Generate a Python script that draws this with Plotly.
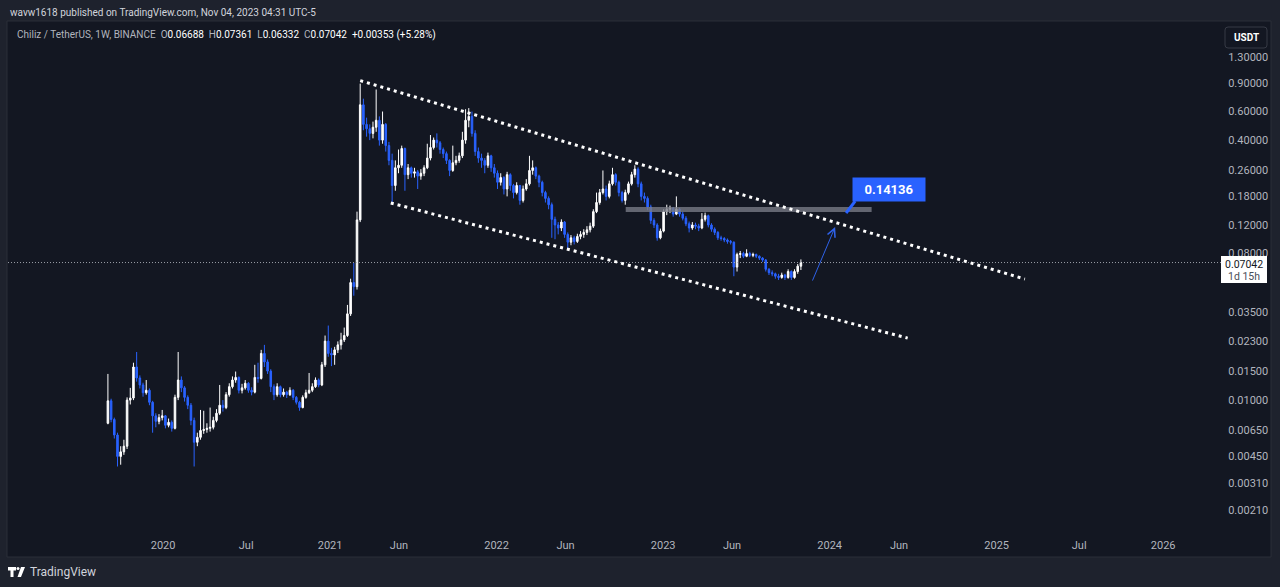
import math
import pandas as pd
import plotly.graph_objects as go

# ---------------- data (weekly CHZ/USDT candles) ----------------
FIRST_WEEK = "2019-09-02"
FIRST_OPEN = 0.0072

close = [
    0.0099, 0.0076, 0.0061, 0.0045, 0.0048, 0.0052, 0.0100, 0.0103, 0.0160, 0.0137,
    0.0124, 0.0111, 0.0115, 0.0097, 0.0080, 0.0074, 0.0078, 0.0080, 0.0070, 0.0073,
    0.0067, 0.0104, 0.0133, 0.0119, 0.0104, 0.0093, 0.0075, 0.0055, 0.0059, 0.0065,
    0.0066, 0.0067, 0.0068, 0.0075, 0.0083, 0.0093, 0.0090, 0.0108, 0.0121, 0.0133,
    0.0138, 0.0115, 0.0119, 0.0127, 0.0115, 0.0112, 0.0138, 0.0136, 0.0194, 0.0172,
    0.0151, 0.0121, 0.0108, 0.0121, 0.0108, 0.0112, 0.0108, 0.0115, 0.0104, 0.0097,
    0.0090, 0.0104, 0.0111, 0.0115, 0.0121, 0.0133, 0.0124, 0.0165, 0.0231, 0.0194,
    0.0190, 0.0204, 0.0219, 0.0235, 0.0250, 0.0340, 0.0530, 0.0500, 0.1290, 0.6600,
    0.500, 0.470, 0.440, 0.480, 0.530, 0.400, 0.500, 0.370, 0.300, 0.210,
    0.270, 0.280, 0.355, 0.245, 0.270, 0.250, 0.255, 0.240, 0.250, 0.270,
    0.310, 0.360, 0.400, 0.385, 0.350, 0.330, 0.300, 0.260, 0.290, 0.300,
    0.320, 0.400, 0.530, 0.560, 0.440, 0.340, 0.310, 0.300, 0.280, 0.320,
    0.270, 0.250, 0.220, 0.235, 0.200, 0.245, 0.210, 0.190, 0.210, 0.170,
    0.200, 0.215, 0.260, 0.270, 0.240, 0.220, 0.190, 0.175, 0.160, 0.130,
    0.120, 0.115, 0.125, 0.105, 0.094, 0.100, 0.095, 0.102, 0.105, 0.108,
    0.112, 0.118, 0.145, 0.165, 0.190, 0.200, 0.180, 0.215, 0.245, 0.220,
    0.190, 0.170, 0.190, 0.215, 0.245, 0.265, 0.215, 0.180, 0.175, 0.155,
    0.128, 0.120, 0.100, 0.110, 0.145, 0.150, 0.152, 0.140, 0.150, 0.140,
    0.132, 0.122, 0.115, 0.120, 0.118, 0.115, 0.130, 0.137, 0.120, 0.113,
    0.108, 0.100, 0.099, 0.097, 0.095, 0.094, 0.066, 0.079, 0.080, 0.077,
    0.080, 0.078, 0.079, 0.077, 0.075, 0.073, 0.064, 0.061, 0.060, 0.058,
    0.057, 0.059, 0.057, 0.062, 0.057, 0.062, 0.06688, 0.07042,
]

high = [
    0.0145, 0.0102, 0.0078, 0.0063, 0.0052, 0.0057, 0.0104, 0.0119, 0.0170, 0.0198,
    0.0142, 0.0128, 0.0133, 0.0118, 0.0099, 0.0083, 0.0082, 0.0087, 0.0081, 0.0077,
    0.0075, 0.0108, 0.0198, 0.0140, 0.0122, 0.0107, 0.0096, 0.0078, 0.0063, 0.0087,
    0.0086, 0.0072, 0.0090, 0.0079, 0.0088, 0.0124, 0.0100, 0.0112, 0.0127, 0.0140,
    0.0150, 0.0140, 0.0126, 0.0133, 0.0129, 0.0120, 0.0165, 0.0170, 0.0204, 0.0219,
    0.0178, 0.0155, 0.0125, 0.0127, 0.0123, 0.0118, 0.0114, 0.0120, 0.0117, 0.0106,
    0.0099, 0.0107, 0.0116, 0.0147, 0.0127, 0.0138, 0.0136, 0.0172, 0.0250, 0.0288,
    0.0210, 0.0213, 0.0230, 0.0260, 0.0280, 0.0386, 0.0560, 0.0700, 0.1450, 0.8915,
    0.720, 0.550, 0.500, 0.520, 0.820, 0.560, 0.600, 0.510, 0.390, 0.330,
    0.300, 0.350, 0.370, 0.360, 0.285, 0.275, 0.270, 0.262, 0.265, 0.280,
    0.380, 0.430, 0.415, 0.440, 0.395, 0.360, 0.340, 0.305, 0.370, 0.320,
    0.335, 0.450, 0.620, 0.630, 0.600, 0.460, 0.360, 0.330, 0.310, 0.335,
    0.325, 0.285, 0.260, 0.250, 0.240, 0.255, 0.250, 0.215, 0.220, 0.212,
    0.210, 0.230, 0.320, 0.300, 0.275, 0.245, 0.225, 0.195, 0.180, 0.165,
    0.135, 0.125, 0.130, 0.127, 0.108, 0.104, 0.103, 0.106, 0.110, 0.113,
    0.118, 0.124, 0.150, 0.190, 0.200, 0.260, 0.210, 0.225, 0.270, 0.250,
    0.225, 0.195, 0.198, 0.222, 0.255, 0.280, 0.272, 0.222, 0.190, 0.180,
    0.160, 0.132, 0.123, 0.114, 0.150, 0.160, 0.158, 0.155, 0.180, 0.153,
    0.145, 0.136, 0.126, 0.125, 0.124, 0.122, 0.142, 0.143, 0.139, 0.123,
    0.116, 0.110, 0.103, 0.101, 0.099, 0.097, 0.095, 0.081, 0.083, 0.082,
    0.085, 0.082, 0.081, 0.080, 0.078, 0.076, 0.074, 0.065, 0.063, 0.061,
    0.060, 0.061, 0.060, 0.064, 0.063, 0.064, 0.069, 0.07361,
]

low = [
    0.0071, 0.0073, 0.0058, 0.0039, 0.0040, 0.0046, 0.0050, 0.0094, 0.0100, 0.0130,
    0.0118, 0.0105, 0.0108, 0.0093, 0.0063, 0.0068, 0.0071, 0.0075, 0.0067, 0.0068,
    0.0064, 0.0066, 0.0100, 0.0112, 0.0098, 0.0088, 0.0070, 0.0039, 0.0052, 0.0057,
    0.0062, 0.0063, 0.0064, 0.0066, 0.0073, 0.0081, 0.0085, 0.0088, 0.0105, 0.0118,
    0.0128, 0.0110, 0.0110, 0.0116, 0.0111, 0.0107, 0.0110, 0.0128, 0.0134, 0.0160,
    0.0145, 0.0112, 0.0100, 0.0105, 0.0104, 0.0105, 0.0103, 0.0106, 0.0100, 0.0094,
    0.0086, 0.0089, 0.0102, 0.0109, 0.0112, 0.0119, 0.0120, 0.0122, 0.0160, 0.0185,
    0.0162, 0.0165, 0.0195, 0.0205, 0.0228, 0.0245, 0.0330, 0.0440, 0.0480, 0.1250,
    0.460, 0.420, 0.400, 0.410, 0.450, 0.370, 0.380, 0.340, 0.280, 0.164,
    0.195, 0.250, 0.270, 0.195, 0.230, 0.235, 0.235, 0.200, 0.228, 0.240,
    0.265, 0.300, 0.350, 0.360, 0.330, 0.310, 0.285, 0.240, 0.255, 0.280,
    0.290, 0.310, 0.380, 0.480, 0.420, 0.320, 0.290, 0.270, 0.250, 0.270,
    0.255, 0.235, 0.200, 0.210, 0.185, 0.180, 0.195, 0.175, 0.185, 0.160,
    0.165, 0.195, 0.210, 0.245, 0.230, 0.205, 0.180, 0.165, 0.150, 0.100,
    0.098, 0.105, 0.110, 0.100, 0.085, 0.090, 0.091, 0.093, 0.098, 0.100,
    0.104, 0.108, 0.115, 0.142, 0.160, 0.185, 0.170, 0.175, 0.210, 0.210,
    0.180, 0.165, 0.160, 0.185, 0.210, 0.235, 0.205, 0.170, 0.165, 0.148,
    0.122, 0.115, 0.096, 0.098, 0.108, 0.138, 0.142, 0.135, 0.138, 0.135,
    0.128, 0.118, 0.108, 0.112, 0.113, 0.110, 0.113, 0.126, 0.116, 0.109,
    0.104, 0.097, 0.096, 0.094, 0.092, 0.091, 0.058, 0.062, 0.075, 0.075,
    0.076, 0.076, 0.076, 0.075, 0.073, 0.071, 0.062, 0.059, 0.058, 0.056,
    0.055, 0.056, 0.055, 0.056, 0.055, 0.056, 0.060, 0.06332,
]

y_tick_values = [1.3, 0.9, 0.6, 0.4, 0.26, 0.18, 0.12, 0.08, 0.035,
                 0.023, 0.015, 0.01, 0.0065, 0.0045, 0.0031, 0.0021]
x_tick_dates = ["2020-01-01", "2020-07-01", "2021-01-01", "2021-06-01", "2022-01-01",
                "2022-06-01", "2023-01-01", "2023-06-01", "2024-01-01", "2024-06-01",
                "2025-01-01", "2025-07-01", "2026-01-01"]
x_tick_labels = ["2020", "Jul", "2021", "Jun", "2022", "Jun", "2023", "Jun",
                 "2024", "Jun", "2025", "Jul", "2026"]
x_view = ["2019-01-26", "2026-05-10"]
y_view = [0.001584, 2.137]

# drawings (anchor points of the user's drawing tools)
upper_line_dates = ["2021-03-08", "2025-03-04"]
upper_line_prices = [0.93, 0.0557]
lower_line_dates = ["2021-05-14", "2024-06-20"]
lower_line_prices = [0.164, 0.0241]
zone_dates = ["2022-10-11", "2024-04-02"]
zone_prices = [0.1442, 0.1548]
target_label = "0.14136"
callout_tail_dates = ["2024-02-26", "2024-02-06"]
callout_tail_prices = [0.1685, 0.1422]
arrow_dates = ["2023-11-23", "2024-01-13"]
arrow_prices = [0.0534, 0.1166]
last_price = 0.07042
last_price_text = "0.07042"
countdown_text = "1d 15h"

header_text = "wavw1618 published on TradingView.com, Nov 04, 2023 04:31 UTC-5"
symbol_text = "Chiliz / TetherUS, 1W, BINANCE"
ohlc_text = [("O", "0.06688"), ("H", "0.07361"), ("L", "0.06332"), ("C", "0.07042")]
change_text = "+0.00353 (+5.28%)"

# ---------------- styling ----------------
FRAME = "#1e222d"
PANEL = "#131722"
TXT = "#b2b5be"
UP = "#ffffff"
DOWN = "#2962ff"
FONT = "Roboto"

W, H = 1280, 587
ML, MR, MT, MB = 8, 58, 22, 57
PW, PH = W - ML - MR, H - MT - MB


def fx(p):
    return (p - ML) / PW


def fy(p):
    return 1 - (p - MT) / PH


def rounded_rect(x0, y0, x1, y1, r):
    # rounded rectangle path in paper coordinates from pixel corners
    return ("M {a},{t} L {b},{t} Q {R},{t} {R},{c} L {R},{d} Q {R},{Bt} {b},{Bt} "
            "L {a},{Bt} Q {Lf},{Bt} {Lf},{d} L {Lf},{c} Q {Lf},{t} {a},{t} Z").format(
        a=fx(x0 + r), b=fx(x1 - r), R=fx(x1), Lf=fx(x0),
        t=fy(y0), c=fy(y0 + r), d=fy(y1 - r), Bt=fy(y1))


dates = pd.date_range(FIRST_WEEK, periods=len(close), freq="7D")
opens = [FIRST_OPEN] + close[:-1]

fig = go.Figure()

# price dotted line
fig.add_trace(go.Scatter(
    x=x_view, y=[last_price, last_price], mode="lines",
    line=dict(color="rgba(178,181,190,0.85)", width=1, dash="1px,2px"),
    hoverinfo="skip"))

fig.add_trace(go.Candlestick(
    x=dates, open=opens, high=high, low=low, close=close,
    increasing=dict(line=dict(color=UP, width=1), fillcolor=UP),
    decreasing=dict(line=dict(color=DOWN, width=1), fillcolor=DOWN),
    whiskerwidth=0, hoverinfo="skip"))

# horizontal zone
fig.add_trace(go.Scatter(
    x=[zone_dates[0], zone_dates[1], zone_dates[1], zone_dates[0], zone_dates[0]],
    y=[zone_prices[0], zone_prices[0], zone_prices[1], zone_prices[1], zone_prices[0]],
    mode="lines", fill="toself", fillcolor="rgba(120,123,134,0.80)",
    line=dict(width=0), hoverinfo="skip"))

# channel lines
for dx, dy in ((upper_line_dates, upper_line_prices), (lower_line_dates, lower_line_prices)):
    fig.add_trace(go.Scatter(
        x=dx, y=dy, mode="lines",
        line=dict(color="#ffffff", width=3, dash="3px,4px"), hoverinfo="skip"))

# callout tail
fig.add_trace(go.Scatter(
    x=callout_tail_dates, y=callout_tail_prices, mode="lines",
    line=dict(color=DOWN, width=3), hoverinfo="skip"))

shapes = [
    # chart panel
    dict(type="rect", xref="paper", yref="paper", x0=fx(7), x1=fx(1271), y0=fy(21), y1=fy(557),
         fillcolor=PANEL, line=dict(color="#2a2e39", width=1), layer="below"),
    # USDT box
    dict(type="path", xref="paper", yref="paper", path=rounded_rect(1225, 27, 1267, 48, 3),
         fillcolor=PANEL, line=dict(color="#363a45", width=1), layer="above"),
    # last-price label box
    dict(type="rect", xref="paper", yref="paper", x0=fx(1221), x1=fx(1267), y0=fy(256), y1=fy(283),
         fillcolor="#ffffff", line=dict(width=0), layer="above"),
    # TradingView logo
    dict(type="path", xref="paper", yref="paper",
         path="M {a},{b} L {c},{b} L {c},{d} L {e},{d} L {e},{f} L {g},{f} L {g},{d} L {a},{d} Z".format(
             a=fx(8), b=fy(567), c=fx(16), d=fy(570.5), e=fx(13.5), f=fy(577), g=fx(10.5)),
         fillcolor="#ffffff", line=dict(width=0)),
    dict(type="circle", xref="paper", yref="paper", x0=fx(16.5), x1=fx(19.5), y0=fy(567), y1=fy(570),
         fillcolor="#ffffff", line=dict(width=0)),
    dict(type="path", xref="paper", yref="paper",
         path="M {a},{b} L {c},{b} L {d},{e} L {f},{e} Z".format(
             a=fx(21), b=fy(567), c=fx(25), d=fx(21), e=fy(577), f=fx(17.5)),
         fillcolor="#ffffff", line=dict(width=0)),
]

ann = []
ann.append(dict(xref="paper", yref="paper", x=fx(8), y=fy(12), xanchor="left", yanchor="middle",
                text=header_text, showarrow=False, font=dict(family=FONT, size=10, color="#d1d4dc")))
legend_html = '<span style="color:#b2b5be">%s</span>' % symbol_text
for k, v in ohlc_text:
    legend_html += '&nbsp;&nbsp;<span style="color:#b2b5be">%s</span><span style="color:#ffffff">%s</span>' % (k, v)
legend_html += '&nbsp;&nbsp;<span style="color:#ffffff">%s</span>' % change_text
ann.append(dict(xref="paper", yref="paper", x=fx(15), y=fy(35), xanchor="left", yanchor="middle",
                text=legend_html, showarrow=False, font=dict(family=FONT, size=10, color=TXT)))
ann.append(dict(xref="paper", yref="paper", x=fx(1246), y=fy(37.5), xanchor="center", yanchor="middle",
                text="<b>USDT</b>", showarrow=False, font=dict(family=FONT, size=10, color="#ffffff")))
ann.append(dict(xref="paper", yref="paper", x=fx(1244), y=fy(264), xanchor="center", yanchor="middle",
                text=last_price_text, showarrow=False, font=dict(family=FONT, size=10.5, color="#131722")))
ann.append(dict(xref="paper", yref="paper", x=fx(1244), y=fy(276.5), xanchor="center", yanchor="middle",
                text=countdown_text, showarrow=False, font=dict(family=FONT, size=10.5, color="#4a4e59")))
ann.append(dict(xref="paper", yref="paper", x=fx(28), y=fy(572), xanchor="left", yanchor="middle",
                text="TradingView", showarrow=False, font=dict(family=FONT, size=12, color="#d1d4dc")))
# target callout box
ann.append(dict(x=callout_tail_dates[0], y=math.log10(callout_tail_prices[0]), xref="x", yref="y",
                xanchor="left", yanchor="bottom", xshift=-3, yshift=-1,
                text="<b>%s</b>" % target_label, showarrow=False, bgcolor=DOWN,
                width=66, height=17, borderpad=3,
                font=dict(family=FONT, size=13, color="#ffffff")))
# arrow
ann.append(dict(x=arrow_dates[1], y=math.log10(arrow_prices[1]), xref="x", yref="y",
                ax=arrow_dates[0], ay=math.log10(arrow_prices[0]), axref="x", ayref="y",
                text="", showarrow=True, arrowhead=5, arrowsize=1.6, arrowwidth=1,
                arrowcolor="#2f62e8"))

fig.update_layout(
    width=W, height=H,
    margin=dict(l=ML, r=MR, t=MT, b=MB),
    paper_bgcolor=FRAME, plot_bgcolor=PANEL,
    showlegend=False, hovermode=False,
    shapes=shapes, annotations=ann,
    font=dict(family=FONT, size=11, color=TXT),
    xaxis=dict(type="date", range=x_view, showgrid=False, zeroline=False,
               rangeslider=dict(visible=False), tickmode="array",
               tickvals=x_tick_dates, ticktext=x_tick_labels,
               ticks="outside", ticklen=5, tickcolor="rgba(0,0,0,0)",
               tickfont=dict(family=FONT, size=11, color=TXT), showline=False, fixedrange=True),
    yaxis=dict(type="log", range=[math.log10(y_view[0]), math.log10(y_view[1])],
               side="right", showgrid=False, zeroline=False, tickmode="array",
               tickvals=y_tick_values, ticktext=["%.5f" % v for v in y_tick_values],
               ticks="outside", ticklen=3, tickcolor="rgba(0,0,0,0)",
               tickfont=dict(family=FONT, size=11, color=TXT), showline=False, fixedrange=True),
)

fig.write_html("out.html")
